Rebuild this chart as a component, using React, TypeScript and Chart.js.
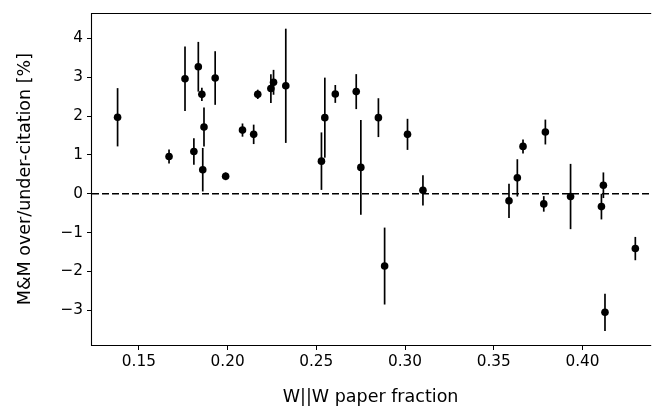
import React, { useEffect, useRef } from "react";
import { Chart, registerables } from "chart.js";

Chart.register(...registerables);

const paperFraction = [
  0.138, 0.167, 0.176, 0.181, 0.1835, 0.1855, 0.1867, 0.186, 0.193, 0.1989,
  0.2084, 0.2147, 0.217, 0.2244, 0.2259, 0.2328, 0.2529, 0.2548, 0.2607, 0.2725,
  0.2751, 0.285, 0.2885, 0.3014, 0.3101, 0.3586, 0.3633, 0.3665, 0.3782, 0.3791,
  0.3933, 0.4107, 0.4118, 0.4127, 0.4298,
];
const citationBias = [
  1.97, 0.96, 2.96, 1.09, 3.27, 2.56, 1.72, 0.62, 2.98, 0.45,
  1.64, 1.53, 2.56, 2.71, 2.87, 2.78, 0.84, 1.96, 2.57, 2.63,
  0.68, 1.96, -1.86, 1.53, 0.09, -0.18, 0.41, 1.22, -0.26, 1.59,
  -0.07, -0.33, 0.22, -3.05, -1.41,
];
const citationErr = [
  0.75, 0.18, 0.83, 0.34, 0.64, 0.17, 0.5, 0.56, 0.69, 0.1,
  0.17, 0.25, 0.12, 0.37, 0.32, 1.47, 0.74, 1.03, 0.23, 0.45,
  1.22, 0.5, 0.99, 0.4, 0.39, 0.44, 0.48, 0.18, 0.2, 0.32,
  0.84, 0.33, 0.33, 0.48, 0.3,
];
const xTickValues = [0.15, 0.2, 0.25, 0.3, 0.35, 0.4];
const yTickValues = [-3, -2, -1, 0, 1, 2, 3, 4];

const FONT = "'DejaVu Sans', sans-serif";

export default function App() {
  const ref = useRef<HTMLCanvasElement | null>(null);

  useEffect(() => {
    if (!ref.current) return;

    const errorBars = {
      id: "errorBars",
      beforeDatasetsDraw(chart: any) {
        const { ctx, scales, chartArea } = chart;
        const xs = scales.x;
        const ys = scales.y;
        ctx.save();
        ctx.beginPath();
        ctx.setLineDash([7, 3]);
        ctx.lineWidth = 1.5;
        ctx.strokeStyle = "#000";
        const y0 = ys.getPixelForValue(0);
        ctx.moveTo(chartArea.left, y0);
        ctx.lineTo(chartArea.right, y0);
        ctx.stroke();
        ctx.setLineDash([]);
        ctx.lineWidth = 1.7;
        ctx.strokeStyle = "#000";
        paperFraction.forEach((xv, i) => {
          const px = xs.getPixelForValue(xv);
          const top = ys.getPixelForValue(citationBias[i] + citationErr[i]);
          const bot = ys.getPixelForValue(citationBias[i] - citationErr[i]);
          ctx.beginPath();
          ctx.moveTo(px, top);
          ctx.lineTo(px, bot);
          ctx.stroke();
        });
        ctx.restore();
      },
      afterDraw(chart: any) {
        const { ctx, chartArea } = chart;
        const l = Math.round(chartArea.left) - 0.5;
        const t = Math.round(chartArea.top) + 0.5;
        const b = Math.round(chartArea.bottom) + 0.5;
        const r = chartArea.right + 2;
        ctx.save();
        ctx.strokeStyle = "#000";
        ctx.lineWidth = 1.1;
        ctx.beginPath();
        ctx.moveTo(r, t);
        ctx.lineTo(l, t);
        ctx.lineTo(l, b);
        ctx.lineTo(r, b);
        ctx.stroke();
        ctx.restore();
      },
    };

    const chart = new Chart(ref.current, {
      type: "scatter",
      data: {
        datasets: [
          {
            data: paperFraction.map((x, i) => ({ x, y: citationBias[i] })),
            backgroundColor: "#000",
            borderColor: "#000",
            pointRadius: 3.8,
            pointHoverRadius: 3.8,
            borderWidth: 0,
          },
        ],
      },
      options: {
        animation: false,
        responsive: false,
        maintainAspectRatio: false,
        events: [],
        layout: { padding: { top: 3, right: 0, left: 0, bottom: 0 } },
        plugins: {
          legend: { display: false },
          tooltip: { enabled: false },
        },
        scales: {
          x: {
            type: "linear",
            min: 0.12358,
            max: 0.43762,
            afterBuildTicks(axis: any) {
              axis.ticks = xTickValues.map((v) => ({ value: v }));
            },
            afterFit(axis: any) {
              axis.height = 70;
            },
            ticks: {
              color: "#000",
              font: { family: FONT, size: 15.3 },
              padding: 3,
              maxRotation: 0,
              autoSkip: false,
              callback: (v: any) => Number(v).toFixed(2),
            },
            grid: {
              drawOnChartArea: false,
              drawTicks: true,
              tickLength: 5,
              tickColor: "#000",
              tickWidth: 1,
            },
            border: { display: false },
            title: {
              display: true,
              text: "W||W paper fraction",
              color: "#000",
              font: { family: FONT, size: 17.5 },
              padding: { top: 0, bottom: 7 },
            },
          },
          y: {
            type: "linear",
            min: -3.892,
            max: 4.649,
            afterBuildTicks(axis: any) {
              axis.ticks = yTickValues.map((v) => ({ value: v }));
            },
            afterFit(axis: any) {
              axis.width = 92;
            },
            ticks: {
              color: "#000",
              font: { family: FONT, size: 15.3 },
              padding: 4,
              autoSkip: false,
              callback: (v: any) => {
                const n = Number(v);
                return n < 0 ? "\u2212" + Math.abs(n) : String(n);
              },
            },
            grid: {
              drawOnChartArea: false,
              drawTicks: true,
              tickLength: 5,
              tickColor: "#000",
              tickWidth: 1,
            },
            border: { display: false },
            title: {
              display: true,
              text: "M&M over/under-citation [%]",
              color: "#000",
              font: { family: FONT, size: 17.5 },
              padding: { top: 15, bottom: 0 },
            },
          },
        },
      },
      plugins: [errorBars],
    });

    return () => chart.destroy();
  }, []);

  return (
    <div style={{ position: "fixed", left: 0, top: 0, width: 653, height: 415, background: "#fff" }}>
      <canvas ref={ref} width={653} height={415} style={{ width: 653, height: 415, display: "block" }} />
    </div>
  );
}
